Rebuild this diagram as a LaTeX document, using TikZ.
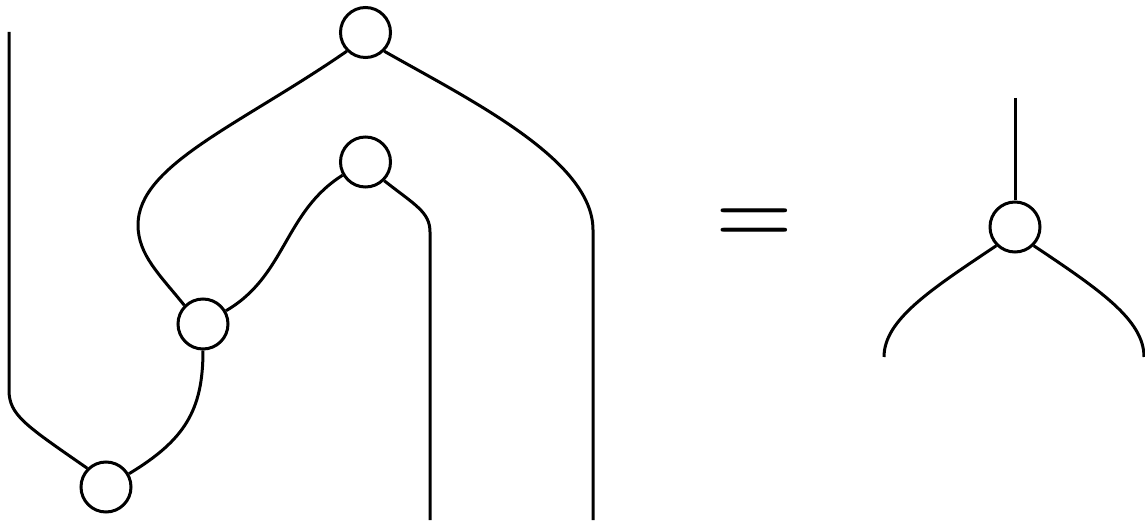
\documentclass[tikz,border=0pt]{standalone}
\usepackage{tikz}
\usetikzlibrary{calc}

\begin{document}
\begin{tikzpicture}[
        x=0.5pt, y=-0.5pt,
        wire/.style={line width=1.5pt, line join=round},
        vertex/.style={circle, draw, line width=1.5pt, minimum size=25pt, inner sep=0pt, fill=white},
        equal sign/.style={scale=5, anchor=base, inner sep=0pt},
    ]

    \useasboundingbox (0,0) rectangle (1145,523);

    % Vertices (left hand side)
    \node[vertex] (top)   at (365.5,32.5) {};
    \node[vertex] (inner) at (365.5,162)  {};
    \node[vertex] (mid)   at (203,324)    {};
    \node[vertex] (low)   at (106,487)    {};

    % Vertex (right hand side)
    \node[vertex] (rhs) at (1015,227) {};

    % Free ends of the wires
    \coordinate (inL)  at (9,32);
    \coordinate (outA) at (430,520);
    \coordinate (outB) at (593,520);
    \coordinate (inR)  at (1015,98);
    \coordinate (outL) at (884,357);
    \coordinate (outR) at (1144,357);

    % Wires (left hand side)
    \draw[wire] (inL) -- (9,390) .. controls (9,415) and (25,425) .. (low.135);
    \draw[wire] (low.30) .. controls (185,440) and (203,410) .. (mid.-90);
    \draw[wire] (mid.135) .. controls (160,275) and (138,255) .. (138,225)
        .. controls (138,165) and (240,125) .. (top.225);
    \draw[wire] (mid.30) .. controls (286,276) and (284,212) .. (inner.210);
    \draw[wire] (inner.-45) .. controls (415,205) and (430,212) .. (430,232) -- (outA);
    \draw[wire] (top.-45) .. controls (470,100) and (593,160) .. (593,230) -- (outB);

    % Equals
    \node[equal sign] (eq) at (754.5,245.5) {$=$};

    % Wires (right hand side)
    \draw[wire] (inR) -- (rhs);
    \draw[wire] (rhs.225) .. controls (930,290) and (884,320) .. (outL);
    \draw[wire] (rhs.-45) .. controls (1100,290) and (1144,320) .. (outR);

\end{tikzpicture}
\end{document}
